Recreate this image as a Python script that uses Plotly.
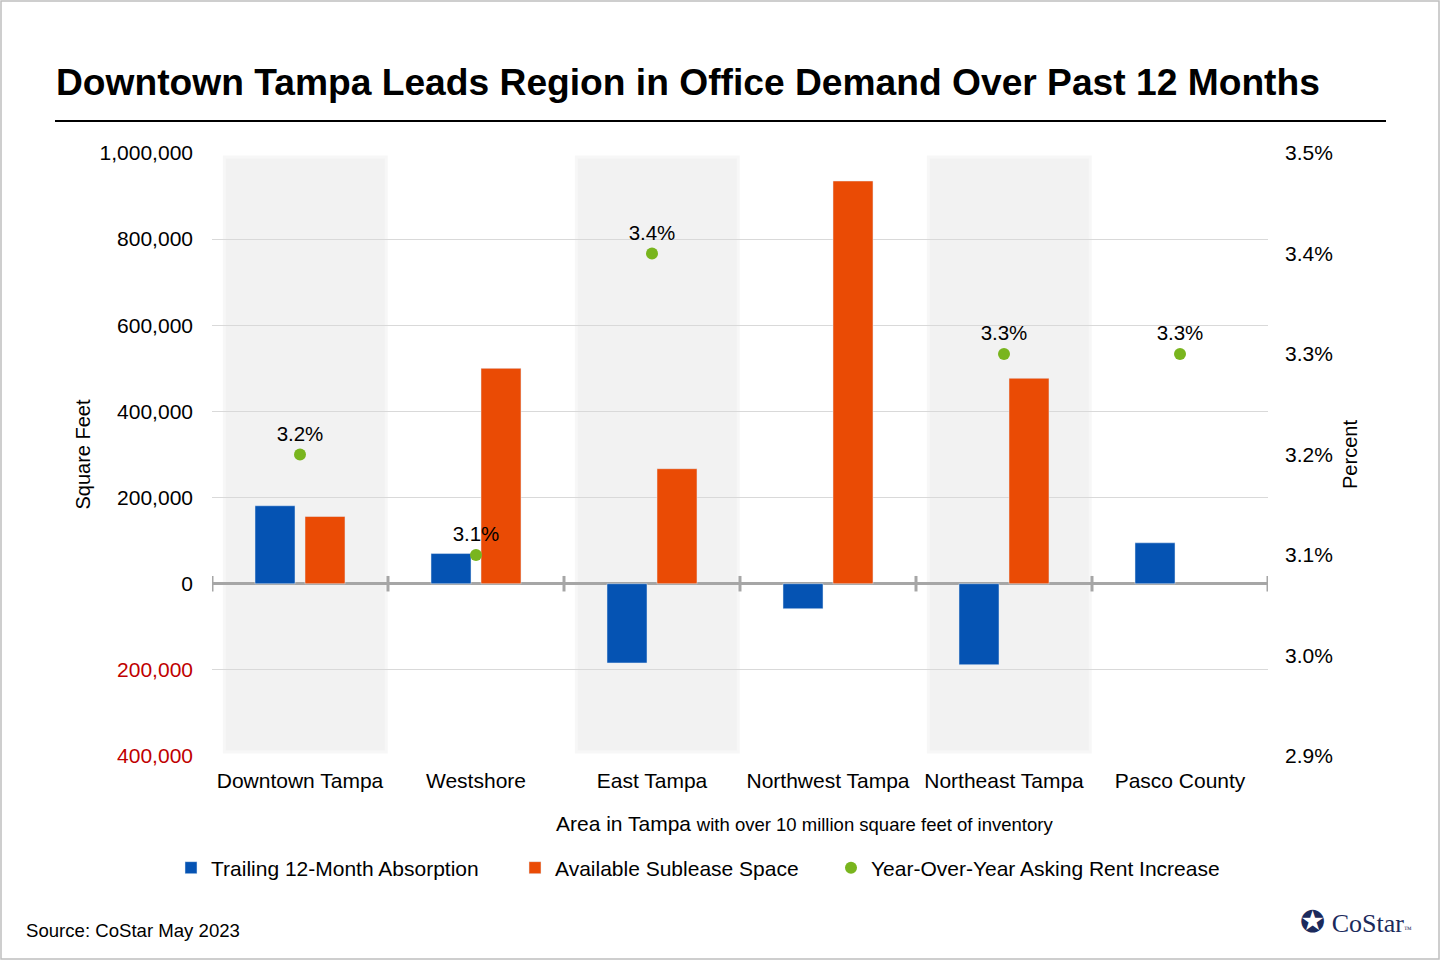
import plotly.graph_objects as go

# Data
areas = ['Downtown Tampa', 'Westshore', 'East Tampa', 'Northwest Tampa', 'Northeast Tampa', 'Pasco County']
absorption = [181000, 70000, -184000, -58000, -188000, 95000]    # Trailing 12-month absorption, sq ft.
sublease = [156000, 500000, 267000, 935000, 477000, None]    # Available sublease space, sq ft.
rent_increase = [3.2, 3.1, 3.4, None, 3.3, 3.3]    # YoY asking rent increase, percent.

left_ticks = [-400000, -200000, 0, 200000, 400000, 600000, 800000, 1000000]
right_ticks = [2.9, 3.0, 3.1, 3.2, 3.3, 3.4, 3.5]
shaded = [0, 2, 4]    # Alternate areas with gray band.

BLUE = '#0553b3'
ORANGE = '#ea4b05'
GREEN = '#79b51e'
FONT = 'Liberation Sans, Arial, sans-serif'


def left_label(v):
    text = '{:,}'.format(abs(v))
    if v < 0:
        return '<span style="color:#c00000">' + text + '</span>'
    return text


# Plot area in pixels: x 212..1268, y 153..756
L, R, T, B = 212, 172, 153, 204
W = 1440 - L - R
H = 960 - T - B


def px(x):
    return (x - L) / W


def py(y):
    return (960 - B - y) / H


fig = go.Figure()

fig.add_trace(go.Bar(x=areas, y=absorption, name='Trailing 12-Month Absorption',
                     marker_color=BLUE, yaxis='y', legend='legend'))
fig.add_trace(go.Bar(x=areas, y=sublease, name='Available Sublease Space',
                     marker_color=ORANGE, yaxis='y', legend='legend2'))
fig.add_trace(go.Scatter(x=areas, y=rent_increase, name='Year-Over-Year Asking Rent Increase',
                         mode='markers+text', yaxis='y2', legend='legend3',
                         marker=dict(color=GREEN, size=12),
                         text=['' if v is None else '{:.1f}%'.format(v) for v in rent_increase],
                         textposition='top center',
                         textfont=dict(size=20.5, color='#000000', family=FONT)))

shapes = []
# Gray bands behind alternate areas.
for i in shaded:
    shapes.append(dict(type='rect', xref='x', yref='y', layer='below',
                       x0=i - 0.43, x1=i + 0.49, y0=-391000, y1=991000,
                       fillcolor='#f2f2f2', line=dict(color='#f7f7f7', width=3)))
# Tick marks on the zero line at area boundaries.
for i in range(len(areas) + 1):
    shapes.append(dict(type='line', xref='x', yref='y', layer='above',
                       x0=i - 0.5, x1=i - 0.5, y0=-18000, y1=18000,
                       line=dict(color='#a6a6a6', width=3)))
# Rule under the title.
shapes.append(dict(type='line', xref='paper', yref='paper',
                   x0=px(55), x1=px(1386), y0=py(121), y1=py(121),
                   line=dict(color='#000000', width=2)))
# Thin frame around the whole picture.
shapes.append(dict(type='rect', xref='paper', yref='paper',
                   x0=px(1), x1=px(1439), y0=py(959), y1=py(1),
                   line=dict(color='#bfbfbf', width=1.5)))

annotations = [
    dict(text='<b>Downtown Tampa Leads Region in Office Demand Over Past 12 Months</b>',
         xref='paper', yref='paper', x=px(54), y=py(82),
         xanchor='left', yanchor='middle', showarrow=False,
         font=dict(size=37.2, color='#000000', family=FONT)),
    dict(text='Area in Tampa <span style="font-size:18.5px">with over 10 million square feet of inventory</span>',
         xref='paper', yref='paper', x=px(804), y=py(823),
         xanchor='center', yanchor='middle', showarrow=False,
         font=dict(size=21, color='#000000', family=FONT)),
    dict(text='Source: CoStar May 2023',
         xref='paper', yref='paper', x=px(24), y=py(930),
         xanchor='left', yanchor='middle', showarrow=False,
         font=dict(size=18.6, color='#000000', family=FONT)),
    dict(text='<span style="font-family:DejaVu Sans;font-size:30px">\u272a</span> CoStar<span style="font-size:8px">\u2122</span>',
         xref='paper', yref='paper', x=px(1414), y=py(921),
         xanchor='right', yanchor='middle', showarrow=False,
         font=dict(size=26, color='#1b2a5c', family='Liberation Serif, serif')),
]

legend_style = dict(orientation='h', xanchor='left', yanchor='middle', y=py(868),
                    font=dict(size=21, family=FONT), itemwidth=30,
                    bgcolor='rgba(0,0,0,0)', borderwidth=0)

fig.update_layout(
    width=1440, height=960,
    margin=dict(l=L, r=R, t=T, b=B),
    paper_bgcolor='white', plot_bgcolor='white',
    font=dict(family=FONT, size=21, color='#000000'),
    barmode='group', bargap=0.432, bargroupgap=0.2,
    showlegend=True,
    legend=dict(legend_style, x=px(199 - 28)),
    legend2=dict(legend_style, x=px(543 - 28)),
    legend3=dict(legend_style, x=px(859 - 28)),
    xaxis=dict(type='category', showgrid=False, showline=False, ticks='',
               ticklabelstandoff=10,
               tickfont=dict(size=21, family=FONT), range=[-0.5, len(areas) - 0.5]),
    yaxis=dict(range=[-400000, 1000000], tickvals=left_ticks,
               ticktext=[left_label(v) for v in left_ticks],
               showgrid=True, gridcolor='#d9d9d9', gridwidth=1,
               zeroline=True, zerolinecolor='#a6a6a6', zerolinewidth=3,
               ticks='', ticklabelstandoff=18,
               title=dict(text='Square Feet', standoff=3, font=dict(size=20)),
               tickfont=dict(size=21, family=FONT)),
    yaxis2=dict(range=[2.9, 3.5], overlaying='y', side='right',
                tickvals=right_ticks, ticktext=['{:.1f}%'.format(v) for v in right_ticks],
                showgrid=False, zeroline=False, ticks='', ticklabelstandoff=16,
                title=dict(text='Percent', standoff=11, font=dict(size=20)),
                tickfont=dict(size=21, family=FONT)),
    shapes=shapes,
    annotations=annotations,
)

# Page body has a default margin; remove it so the figure sits at the window corner.
fig.write_html('out.html', config={'displayModeBar': False},
               post_script="document.body.style.margin='0';")
